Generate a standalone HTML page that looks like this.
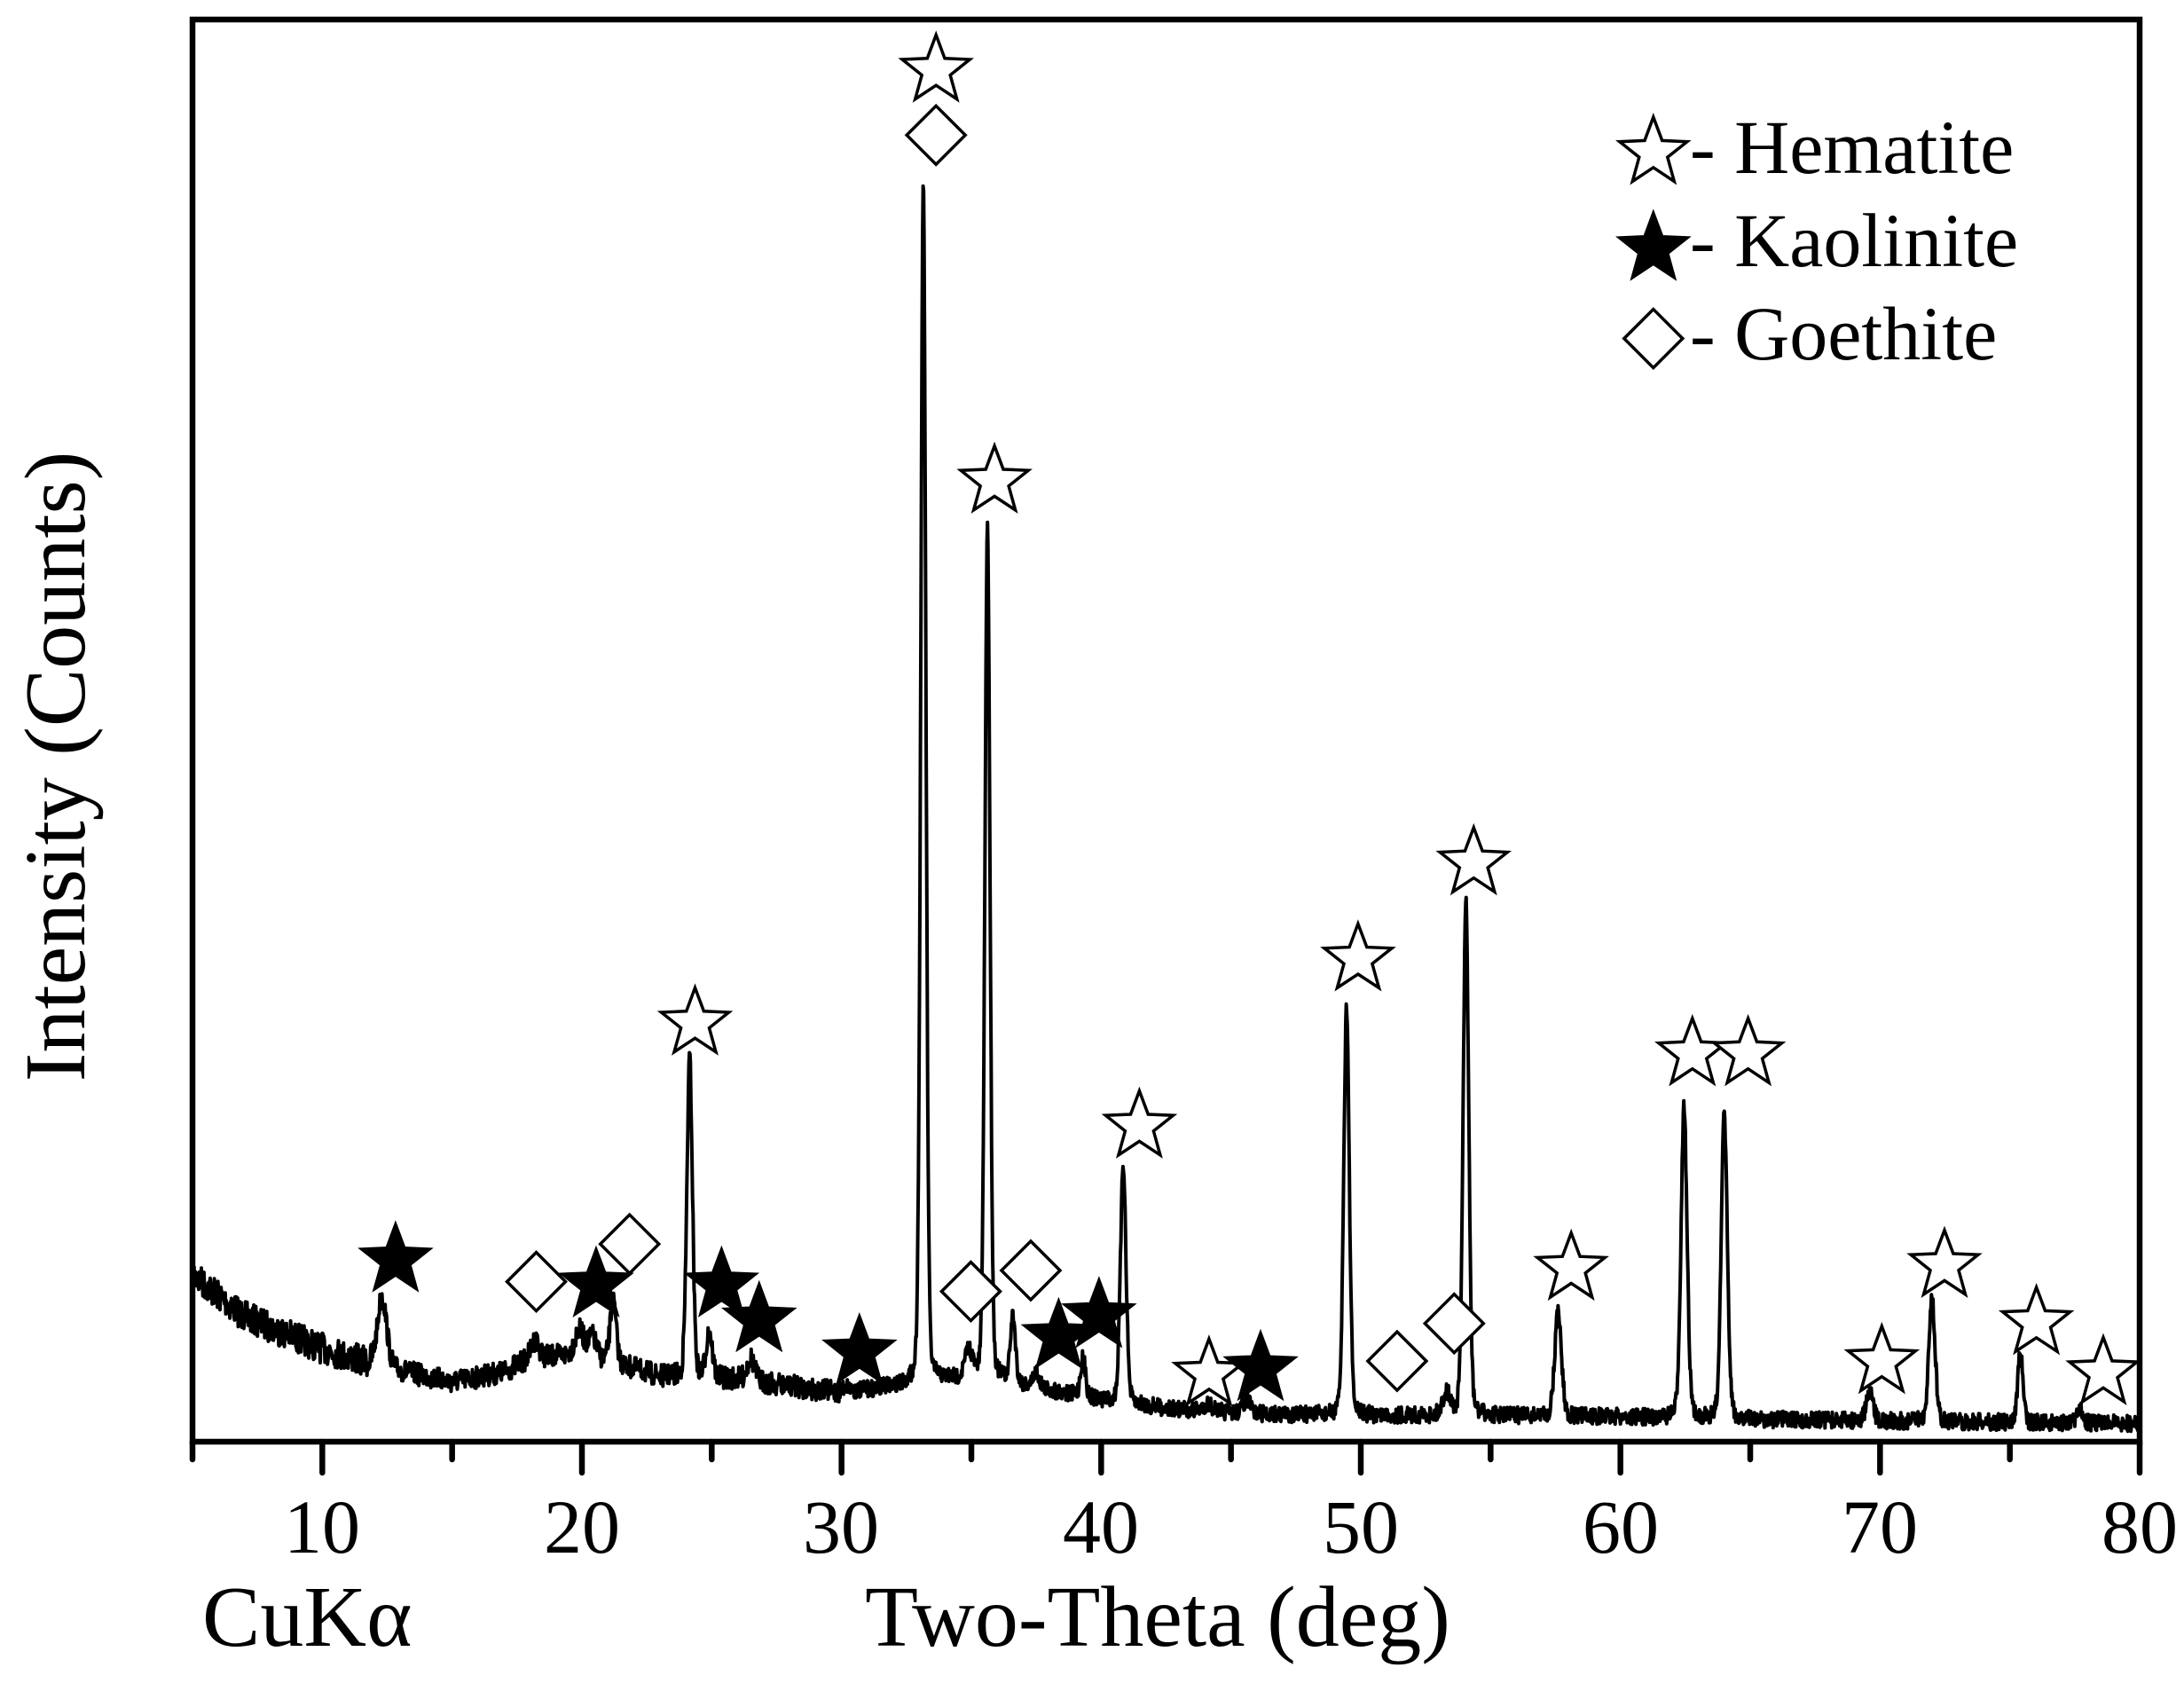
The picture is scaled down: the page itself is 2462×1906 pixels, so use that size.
<!DOCTYPE html>
<html><head><meta charset="utf-8"><style>
html,body{margin:0;padding:0;background:#fff;}
svg{display:block;font-family:"Liberation Serif",serif;}
</style></head><body>
<svg id="s" width="2462" height="1906" viewBox="0 0 2462 1906" xmlns="http://www.w3.org/2000/svg">
<rect width="2462" height="1906" fill="#fff"/>
<g id="data"></g>
<rect x="217" y="22" width="2195" height="1603" fill="none" stroke="#000" stroke-width="6.5"/>
<g id="ticks" stroke="#000" stroke-width="6.5" stroke-linecap="round"></g>
<g font-size="86" text-anchor="middle" fill="#000">
<text x="363" y="1750">10</text><text x="656" y="1750">20</text><text x="948" y="1750">30</text>
<text x="1241" y="1750">40</text><text x="1534" y="1750">50</text><text x="1827" y="1750">60</text>
<text x="2119" y="1750">70</text><text x="2412" y="1750">80</text>
</g>
<text x="228" y="1855" font-size="98">CuKα</text>
<text x="1305" y="1855" font-size="98" text-anchor="middle">Two-Theta (deg)</text>
<text transform="translate(95,864) rotate(-90)" font-size="98" text-anchor="middle">Intensity (Counts)</text>
<g font-size="86">
<text x="1905" y="195">- Hematite</text>
<text x="1905" y="300">- Kaolinite</text>
<text x="1905" y="405">- Goethite</text>
</g>
<g id="marks"></g>
</svg>
<script>
var NS="http://www.w3.org/2000/svg";
function X(d){return 217+(d-5)*29.267;}
var S=1.5702;
var bl=[[5,915],[7,945],[10,968],[12,980],[15,992],[17,985],[18,975],[20,972],[21.5,980],[23,988],[26,990],[28,995],[30,1000],[32,995],[34,990],[36,990],[38,998],[40,1005],[43,1012],[46,1015],[50,1016],[55,1016],[60,1017],[65,1019],[70,1020],[75,1021],[80,1022]];
function base(d){for(var i=0;i<bl.length-1;i++){if(d<=bl[i+1][0]){var t=(d-bl[i][0])/(bl[i+1][0]-bl[i][0]);return bl[i][1]+t*(bl[i+1][1]-bl[i][1]);}}return 1022;}
var pk=[[12.3,930,0.18],[18.2,962,0.15],[18.7,975,0.12],[19.9,955,0.18],[20.4,960,0.15],[21.2,935,0.12],[24.15,760,0.11],[24.9,955,0.12],[26.5,975,0.15],[30.2,995,0.15],[33.15,130,0.1],[34.9,970,0.15],[35.62,375,0.1],[36.6,945,0.1],[37.5,985,0.12],[39.3,975,0.1],[40.85,835,0.11],[44.1,1008,0.2],[45.6,1005,0.15],[49.45,722,0.11],[53.3,1000,0.15],[54.05,647,0.11],[57.6,940,0.13],[62.45,795,0.12],[64.0,800,0.12],[69.6,1000,0.13],[72.0,930,0.12],[75.4,970,0.1],[77.7,1010,0.12]];
var seed=7;function rnd(){seed=(seed*16807)%2147483647;return seed/2147483647;}
var pts=[];
for(var d=5;d<=80;d+=0.02){
 var b=base(d), y=b;
 for(var k=0;k<pk.length;k++){var p=pk[k];var h=b-p[1];if(h<=0)continue;var u=(d-p[0])/p[2];
   y-=h*(0.8*Math.exp(-0.5*u*u)+0.2/(1+u*u));}
 var amp=d<12?22:(d<30?16:12);
 y+= (rnd()-0.5)*amp;
 pts.push(X(d).toFixed(1)+","+(y*S).toFixed(1));
}
var pl=document.createElementNS(NS,"polyline");
pl.setAttribute("points",pts.join(" "));pl.setAttribute("fill","none");pl.setAttribute("stroke","#000");pl.setAttribute("stroke-width","4");pl.setAttribute("stroke-linejoin","round");
document.getElementById("data").appendChild(pl);
var tg=document.getElementById("ticks");
for(var v=5;v<=80;v+=5){var l=document.createElementNS(NS,"line");var x=X(v);l.setAttribute("x1",x);l.setAttribute("x2",x);l.setAttribute("y1",1625);l.setAttribute("y2",v%10==0?1660:1645);tg.appendChild(l);}
function star(cx,cy,R,fill){var s="";for(var i=0;i<10;i++){var r=i%2?R*0.42:R;var a=-Math.PI/2+i*Math.PI/5;s+=(cx+r*Math.cos(a)).toFixed(1)+","+(cy+r*Math.sin(a)).toFixed(1)+" ";}
 var e=document.createElementNS(NS,"polygon");e.setAttribute("points",s);e.setAttribute("fill",fill?"#000":"#fff");e.setAttribute("stroke","#000");e.setAttribute("stroke-width","3.5");document.getElementById("marks").appendChild(e);}
function dia(cx,cy,r){var e=document.createElementNS(NS,"polygon");e.setAttribute("points",(cx)+","+(cy-r)+" "+(cx+r)+","+cy+" "+cx+","+(cy+r)+" "+(cx-r)+","+cy);e.setAttribute("fill","#fff");e.setAttribute("stroke","#000");e.setAttribute("stroke-width","3.5");document.getElementById("marks").appendChild(e);}
var hs=[[672,48],[714,343],[499,732],[818,806],[868,984],[975,686],[1058,617],[1128,908],[1215,754],[1255,754],[1351,975],[1396,906],[1462,947],[1510,983]];
var ds=[[672,97],[385,920],[452,893],[697,927],[740,912],[1003,977],[1044,950]];
var fs=[[284,902],[428,920],[518,920],[545,945],[617,968],[760,957],[789,942],[905,980]];
hs.forEach(function(p){star(p[0]*S,p[1]*S+4,40,false);});
fs.forEach(function(p){star(p[0]*S,p[1]*S+4,40,true);});
ds.forEach(function(p){dia(p[0]*S,p[1]*S,33);});
star(1187*S,107*S+4,40,false);star(1187*S,176*S+4,40,true);dia(1187*S,243*S,33);
</script>
</body></html>
